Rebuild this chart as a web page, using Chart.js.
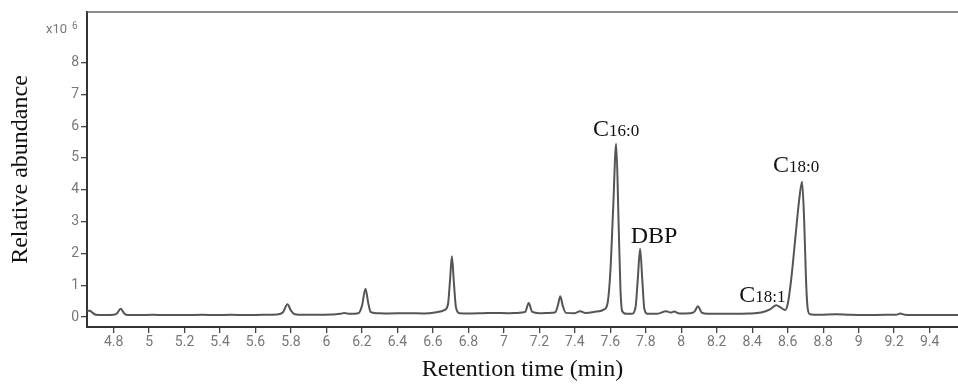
<!DOCTYPE html>
<html lang="en">
<head>
    <meta charset="UTF-8">
    <title>Chromatogram</title>
    <style>
        body {
            margin: 0;
            background: #fff;
        }
        #chart-container {
            width: 958px;
            height: 384px;
        }
    </style>
    <script src="https://cdn.jsdelivr.net/npm/chart.js"></script>
</head>
<body>
    <div id="chart-container">
        <canvas id="gcChart"></canvas>
    </div>

    <script>
        // Retention time (min) and relative abundance (x10^6)
        const retentionTime = [
            4.65, 4.665, 4.68, 4.70, 4.75, 4.80, 4.82, 4.84, 4.86, 4.88,
            4.95, 5.02, 5.10, 5.20, 5.30, 5.38, 5.46, 5.55, 5.64, 5.72,
            5.755, 5.78, 5.80, 5.82, 5.88, 5.95, 6.03, 6.08, 6.10, 6.13,
            6.18, 6.20, 6.22, 6.235, 6.25, 6.28, 6.35, 6.45, 6.55, 6.62,
            6.665, 6.685, 6.697, 6.707, 6.718, 6.73, 6.75, 6.80, 6.88, 6.95,
            7.02, 7.08, 7.12, 7.14, 7.16, 7.20, 7.26, 7.29, 7.305, 7.318,
            7.332, 7.35, 7.40, 7.43, 7.46, 7.52, 7.565, 7.585, 7.60, 7.616,
            7.633, 7.647, 7.657, 7.667, 7.69, 7.72, 7.742, 7.755, 7.768, 7.78,
            7.792, 7.81, 7.86, 7.915, 7.94, 7.96, 7.99, 8.05, 8.075, 8.094,
            8.115, 8.15, 8.22, 8.30, 8.38, 8.45, 8.50, 8.536, 8.56, 8.585,
            8.60, 8.62, 8.645, 8.665, 8.681, 8.693, 8.703, 8.712, 8.725, 8.78,
            8.87, 8.95, 9.05, 9.15, 9.21, 9.236, 9.26, 9.35, 9.45, 9.56
        ];
        const abundance = [
            0.20, 0.20, 0.14, 0.07, 0.06, 0.07, 0.12, 0.26, 0.11, 0.06,
            0.06, 0.07, 0.06, 0.06, 0.07, 0.06, 0.07, 0.06, 0.07, 0.08,
            0.15, 0.40, 0.20, 0.09, 0.07, 0.07, 0.08, 0.10, 0.13, 0.10,
            0.12, 0.35, 0.89, 0.45, 0.15, 0.12, 0.11, 0.12, 0.11, 0.15,
            0.22, 0.40, 1.20, 1.91, 1.10, 0.30, 0.12, 0.11, 0.12, 0.13,
            0.12, 0.13, 0.16, 0.44, 0.16, 0.12, 0.13, 0.15, 0.38, 0.65,
            0.35, 0.13, 0.12, 0.18, 0.13, 0.17, 0.24, 0.45, 1.40, 3.40,
            5.45, 2.90, 0.90, 0.18, 0.10, 0.10, 0.30, 1.20, 2.15, 1.20,
            0.25, 0.10, 0.10, 0.18, 0.14, 0.17, 0.11, 0.12, 0.17, 0.34,
            0.14, 0.10, 0.10, 0.10, 0.11, 0.14, 0.24, 0.37, 0.30, 0.22,
            0.40, 1.20, 2.60, 3.70, 4.25, 3.00, 1.20, 0.30, 0.09, 0.07,
            0.09, 0.07, 0.06, 0.07, 0.07, 0.11, 0.07, 0.06, 0.06, 0.06
        ];

        // Axis tick labels
        const xTickLabels = ['4.8', '5', '5.2', '5.4', '5.6', '5.8', '6', '6.2', '6.4', '6.6', '6.8',
                             '7', '7.2', '7.4', '7.6', '7.8', '8', '8.2', '8.4', '8.6', '8.8', '9', '9.2', '9.4'];
        const yTickLabels = ['0', '1', '2', '3', '4', '5', '6', '7', '8'];

        // Peak labels: main letter, subscript, peak time, peak height
        const peakNames = ['C', 'DBP', 'C', 'C'];
        const peakSubs = ['16:0', '', '18:1', '18:0'];
        const peakTimes = [7.633, 7.768, 8.536, 8.681];
        const peakHeights = [5.45, 2.15, 0.37, 4.25];

        // label offsets in pixels (dx from peak, dy above peak)
        const labelOffsets = [[0, 8], [14, 6], [-14, 3], [-6, 10]];

        const points = retentionTime.map((t, i) => ({ x: t, y: abundance[i] }));

        const tickFont = { family: 'Roboto', size: 14 };
        const titleFont = { family: 'Liberation Serif', size: 24 };

        const decorPlugin = {
            id: 'decor',
            afterDraw(chart) {
                const ctx = chart.ctx;
                const area = chart.chartArea;
                const xs = chart.scales.x;
                const ys = chart.scales.y;
                ctx.save();

                // top frame line
                ctx.strokeStyle = '#666';
                ctx.lineWidth = 1.5;
                ctx.beginPath();
                ctx.moveTo(area.left, area.top);
                ctx.lineTo(area.right, area.top);
                ctx.stroke();

                // x10^6 multiplier
                ctx.fillStyle = '#777';
                ctx.textBaseline = 'alphabetic';
                ctx.textAlign = 'left';
                ctx.font = '13px Roboto';
                ctx.fillText('x10', 46, 33);
                ctx.font = '10px Roboto';
                ctx.fillText('6', 72, 29);

                // peak labels
                ctx.fillStyle = '#111';
                peakNames.forEach((name, i) => {
                    const px = xs.getPixelForValue(peakTimes[i]) + labelOffsets[i][0];
                    const py = ys.getPixelForValue(peakHeights[i]) - labelOffsets[i][1];
                    ctx.font = '24px "Liberation Serif"';
                    const w1 = ctx.measureText(name).width;
                    ctx.font = '17px "Liberation Serif"';
                    const w2 = ctx.measureText(peakSubs[i]).width;
                    const x0 = px - (w1 + w2) / 2;
                    ctx.font = '24px "Liberation Serif"';
                    ctx.fillText(name, x0, py);
                    ctx.font = '17px "Liberation Serif"';
                    ctx.fillText(peakSubs[i], x0 + w1, py);
                });
                ctx.restore();
            }
        };

        const ctx = document.getElementById('gcChart').getContext('2d');
        new Chart(ctx, {
            type: 'line',
            data: {
                datasets: [{
                    data: points,
                    borderColor: '#555',
                    borderWidth: 2,
                    pointRadius: 0,
                    fill: false,
                    cubicInterpolationMode: 'monotone'
                }]
            },
            options: {
                responsive: true,
                maintainAspectRatio: false,
                animation: false,
                layout: { padding: { top: 12, right: 0, left: 0, bottom: 0 } },
                plugins: {
                    legend: { display: false },
                    tooltip: { enabled: false }
                },
                scales: {
                    x: {
                        type: 'linear',
                        min: 4.65,
                        max: 9.56,
                        afterBuildTicks: (scale) => {
                            scale.ticks = xTickLabels.map(l => ({ value: Number(l) }));
                        },
                        afterFit: (scale) => { scale.height = 57; },
                        ticks: {
                            callback: (v, i) => xTickLabels[i],
                            font: tickFont,
                            color: '#777',
                            padding: 1,
                            maxRotation: 0,
                            autoSkip: false
                        },
                        grid: {
                            drawOnChartArea: false,
                            drawTicks: true,
                            tickLength: 6,
                            color: '#444',
                            lineWidth: 1.3
                        },
                        border: { display: true, color: '#333', width: 2 },
                        title: {
                            display: true,
                            text: 'Retention time (min)',
                            font: titleFont,
                            color: '#111',
                            padding: { top: 0, bottom: 0 }
                        }
                    },
                    y: {
                        min: -0.314,
                        max: 9.59,
                        afterBuildTicks: (scale) => {
                            scale.ticks = yTickLabels.map(l => ({ value: Number(l) }));
                        },
                        afterFit: (scale) => { scale.width = 87; },
                        ticks: {
                            callback: (v, i) => yTickLabels[i],
                            font: tickFont,
                            color: '#777',
                            padding: 2
                        },
                        grid: {
                            drawOnChartArea: false,
                            drawTicks: true,
                            tickLength: 6,
                            color: '#444',
                            lineWidth: 1.3
                        },
                        border: { display: true, color: '#333', width: 2 },
                        title: {
                            display: true,
                            text: 'Relative abundance',
                            font: titleFont,
                            color: '#111',
                            padding: { top: 6, bottom: 0 }
                        }
                    }
                }
            },
            plugins: [decorPlugin]
        });
    </script>
</body>
</html>
